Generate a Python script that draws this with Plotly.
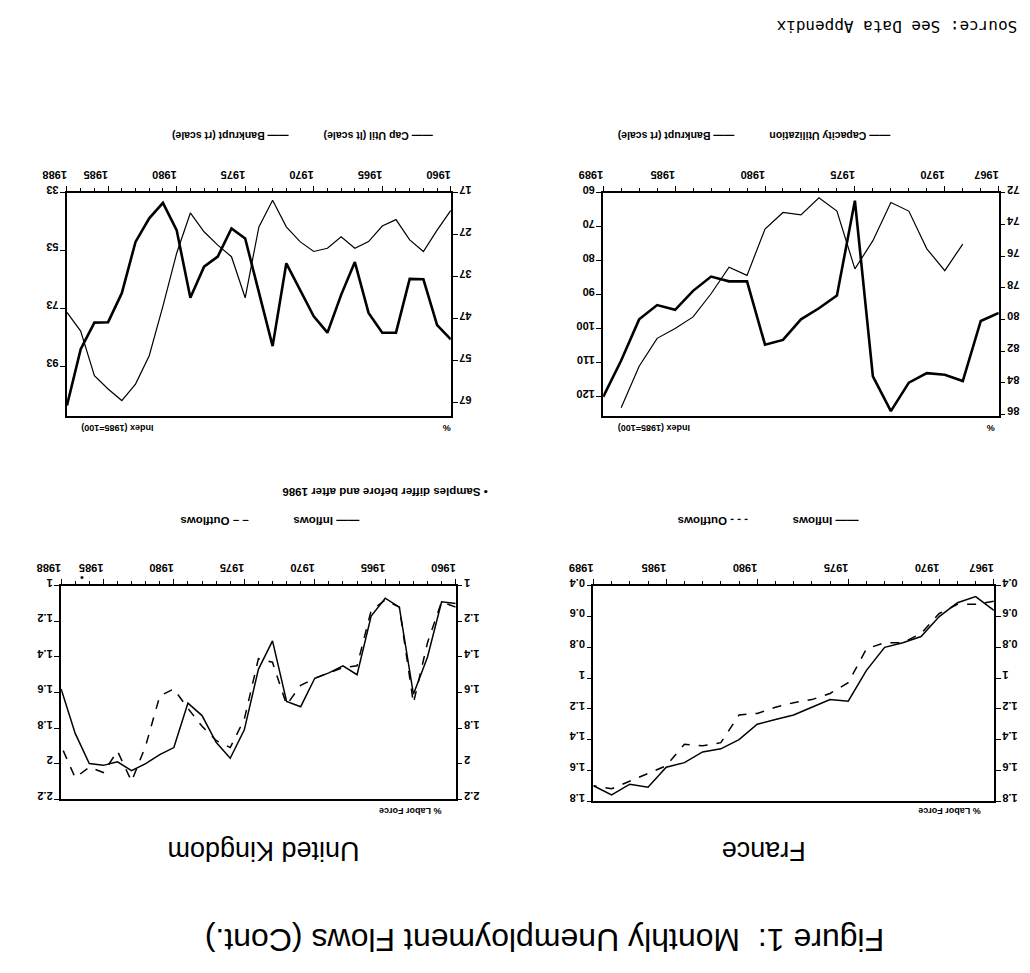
import plotly.graph_objects as go

W, H = 1030, 973

# ---------------- data ----------------
uk_years = list(range(1960, 1989))
fr_years = list(range(1967, 1990))
fr_bk_years = list(range(1969, 1989))

# UK unemployment flows (% labor force)
uk_inflows = [1.10, 1.09, 1.40, 1.61, 1.12, 1.07, 1.17, 1.50, 1.45, 1.49,
              1.52, 1.68, 1.65, 1.31, 1.47, 1.81, 1.97, 1.88, 1.73, 1.66,
              1.91, 1.95, 2.00, 2.04, 1.99, 2.01, 2.00, 1.83, 1.58]
uk_outflows = [1.12, 1.09, 1.32, 1.66, 1.12, 1.08, 1.14, 1.45, 1.46, 1.49,
               1.52, 1.56, 1.67, 1.43, 1.41, 1.75, 1.91, 1.87, 1.79, 1.69,
               1.58, 1.62, 1.90, 2.10, 1.93, 2.05, 2.02, 2.08, 1.90]

# France unemployment flows (% labor force)
fr_inflows = [0.56, 0.47, 0.51, 0.60, 0.73, 0.77, 0.80, 0.95, 1.15, 1.14,
              1.19, 1.24, 1.27, 1.30, 1.40, 1.46, 1.48, 1.55, 1.58, 1.71,
              1.69, 1.76, 1.70]
fr_outflows = [0.50, 0.52, 0.52, 0.58, 0.71, 0.77, 0.77, 0.81, 1.03, 1.10,
               1.14, 1.16, 1.19, 1.23, 1.24, 1.42, 1.44, 1.43, 1.57, 1.62,
               1.67, 1.72, 1.70]

# UK capacity utilisation (%) and bankruptcies (index 1985=100)
uk_caputil = [51.9, 48.5, 37.6, 37.5, 50.3, 50.3, 45.6, 33.5, 41.3, 50.3,
              46.4, 40.1, 33.8, 53.5, 40.9, 27.9, 25.5, 32.2, 34.6, 42.0,
              25.9, 19.4, 23.1, 28.7, 40.9, 47.8, 47.9, 54.2, 67.6]
uk_bankrupt = [39.1, 45.9, 53.3, 49.3, 42.3, 44.5, 49.9, 52.2, 48.2, 52.2,
               53.3, 49.9, 44.8, 35.6, 44.8, 69.3, 55.1, 51.1, 46.5, 40.0,
               53.9, 72.2, 89.3, 99.1, 104.8, 100.8, 96.2, 80.8, 74.3]

# France capacity utilisation (%) and bankruptcies (index 1985=100)
fr_caputil = [79.6, 80.1, 83.9, 83.5, 83.4, 84.0, 85.8, 83.6, 72.5, 78.5,
              79.3, 80.0, 81.3, 81.6, 77.6, 77.6, 77.3, 78.2, 79.4, 79.1,
              80.0, 82.6, 84.9]
fr_bankrupt = [75.1, 82.9, 76.5, 65.4, 62.9, 74.1, 82.4, 65.4, 61.5, 66.5,
               65.8, 70.7, 84.3, 81.9, 89.7, 96.5, 99.9, 102.8, 111.0, 123.2]

uk_xticks = [1960, 1965, 1970, 1975, 1980, 1985, 1988]
fr_xticks = [1967, 1970, 1975, 1980, 1985, 1989]
flow_uk_yticks = [1, 1.2, 1.4, 1.6, 1.8, 2, 2.2]
flow_fr_yticks = [0.4, 0.6, 0.8, 1, 1.2, 1.4, 1.6, 1.8]
uk_index_ticks = [33, 53, 73, 93]
uk_pct_ticks = [17, 27, 37, 47, 57, 67]
fr_index_ticks = [60, 70, 80, 90, 100, 110, 120]
fr_pct_ticks = [72, 74, 76, 78, 80, 82, 84, 86]

# ---------------- figure ----------------
fig = go.Figure()
FONT = "Liberation Sans, Arial, sans-serif"

def px_x(a, b):
    return [a / W, b / W]

def px_y(top, bottom):
    return [1 - bottom / H, 1 - top / H]

thick = dict(color="black", width=2.6)
thin = dict(color="black", width=1.2)
solid = dict(color="black", width=1.5)
dashed = dict(color="black", width=1.5, dash="dash")

# TL: UK cap util / bankrupt
fig.add_trace(go.Scatter(x=uk_years, y=uk_bankrupt, xaxis="x", yaxis="y", mode="lines", line=thin))
fig.add_trace(go.Scatter(x=uk_years, y=uk_caputil, xaxis="x", yaxis="y2", mode="lines", line=thick))
# TR: France cap util / bankrupt
fig.add_trace(go.Scatter(x=fr_bk_years, y=fr_bankrupt, xaxis="x2", yaxis="y3", mode="lines", line=thin))
fig.add_trace(go.Scatter(x=fr_years, y=fr_caputil, xaxis="x2", yaxis="y4", mode="lines", line=thick))
# BL: UK flows
fig.add_trace(go.Scatter(x=uk_years, y=uk_inflows, xaxis="x3", yaxis="y5", mode="lines", line=solid))
fig.add_trace(go.Scatter(x=uk_years, y=uk_outflows, xaxis="x3", yaxis="y6", mode="lines", line=dashed))
# BR: France flows
fig.add_trace(go.Scatter(x=fr_years, y=fr_inflows, xaxis="x4", yaxis="y7", mode="lines", line=solid))
fig.add_trace(go.Scatter(x=fr_years, y=fr_outflows, xaxis="x4", yaxis="y8", mode="lines", line=dashed))

tickfont = dict(family=FONT, size=11, color="black", weight="bold")

def xax(dom, rng, ticks, anchor, first_minor):
    return dict(domain=dom, range=rng, anchor=anchor, side="top",
                tickvals=ticks, ticktext=[str(t) for t in ticks],
                tickangle=180, tickfont=tickfont,
                ticks="outside", ticklen=5, tickwidth=1.2, tickcolor="black",
                minor=dict(dtick=1, tick0=first_minor, ticks="outside", ticklen=3,
                           tickwidth=1, tickcolor="black"),
                showline=True, linecolor="black", linewidth=1.5, mirror=True,
                showgrid=False, zeroline=False)

def yax(dom, rng, ticks, anchor, side, overlay=None):
    d = dict(domain=dom, range=rng, anchor=anchor, side=side,
             tickvals=ticks, ticktext=[("%g" % t) for t in ticks],
             tickangle=180, tickfont=tickfont,
             ticklabelposition="inside", ticklabelstandoff=-9, ticklabeloverflow="allow",
             ticks="outside", ticklen=5, tickwidth=1.2, tickcolor="black",
             showline=True, linecolor="black", linewidth=1.5,
             showgrid=False, zeroline=False)
    if overlay:
        d["overlaying"] = overlay
    return d

TLx, TRx, BLx, BRx = px_x(44, 437), px_x(593, 998), px_x(38, 442), px_x(583, 993)
TOPy, BLy, BRy = px_y(186, 412), px_y(584, 800), px_y(584, 802)

fig.update_layout(
    xaxis=xax(TLx, [1988, 1960], uk_xticks, "y", 1960),
    xaxis2=xax(TRx, [1989, 1967], fr_xticks, "y3", 1967),
    xaxis3=xax(BLx, [1988, 1960], uk_xticks, "y5", 1960),
    xaxis4=xax(BRx, [1989, 1967], fr_xticks, "y7", 1967),
    yaxis=yax(TOPy, [110.1, 33], uk_index_ticks, "x", "left"),
    yaxis2=yax(TOPy, [70.1, 17], uk_pct_ticks, "x", "right", overlay="y"),
    yaxis3=yax(TOPy, [125.6, 60], fr_index_ticks, "x2", "left"),
    yaxis4=yax(TOPy, [86.1, 72], fr_pct_ticks, "x2", "right", overlay="y3"),
    yaxis5=yax(BLy, [2.2, 1], flow_uk_yticks, "x3", "left"),
    yaxis6=yax(BLy, [2.2, 1], flow_uk_yticks, "x3", "right", overlay="y5"),
    yaxis7=yax(BRy, [1.8, 0.4], flow_fr_yticks, "x4", "left"),
    yaxis8=yax(BRy, [1.8, 0.4], flow_fr_yticks, "x4", "right", overlay="y7"),
)

def ann(text, cx, cy, size, weight="normal", family=FONT):
    fig.add_annotation(text=text, x=cx / W, y=1 - cy / H, xref="paper", yref="paper",
                       xanchor="center", yanchor="middle", showarrow=False, textangle=180,
                       font=dict(family=family, size=size, color="black", weight=weight))

ann("Source: See Data Appendix", 894, 17, 16, family="DejaVu Sans Mono, monospace")
ann("<b>——</b> Cap Util (lt scale)            —— Bankrupt (rt scale)", 285, 128, 10.5, "bold")
ann("<b>——</b> Capacity Utilization            —— Bankrupt (rt scale)", 748, 128, 10.5, "bold")
ann("Index (1985=100)", 96, 424, 9, "bold")
ann("%", 433, 424, 9, "bold")
ann("Index (1985=100)", 645, 424, 9, "bold")
ann("%", 990, 424, 9, "bold")
ann("• Samples differ before and after 1986", 370, 489, 11.5, "bold")
ann("—— Inflows              – – Outflows", 252, 519, 11.5, "bold")
ann("—— Inflows              - - - Outflows", 762, 519, 11.5, "bold")
ann("% Labor Force", 395, 812, 9, "bold")
ann("% Labor Force", 947, 812, 9, "bold")
ann("United Kingdom", 245, 852, 27)
ann("France", 757, 852, 27)
ann("Figure 1:  Monthly Unemployment Flows (Cont.)", 533, 942, 32)
# marker between 1985 and 1988 on the UK flows axis
fig.add_annotation(text="•", x=1986.5, y=1.08, xref="x3", yref="y5 domain",
                   showarrow=False, font=dict(family=FONT, size=11, color="black"))

fig.update_layout(width=W, height=H, margin=dict(l=0, r=0, t=0, b=0),
                  plot_bgcolor="white", paper_bgcolor="white", showlegend=False)

fig.write_html("out.html", config={"displayModeBar": False},
               post_script="document.body.style.margin='0';document.body.style.overflow='hidden';")
